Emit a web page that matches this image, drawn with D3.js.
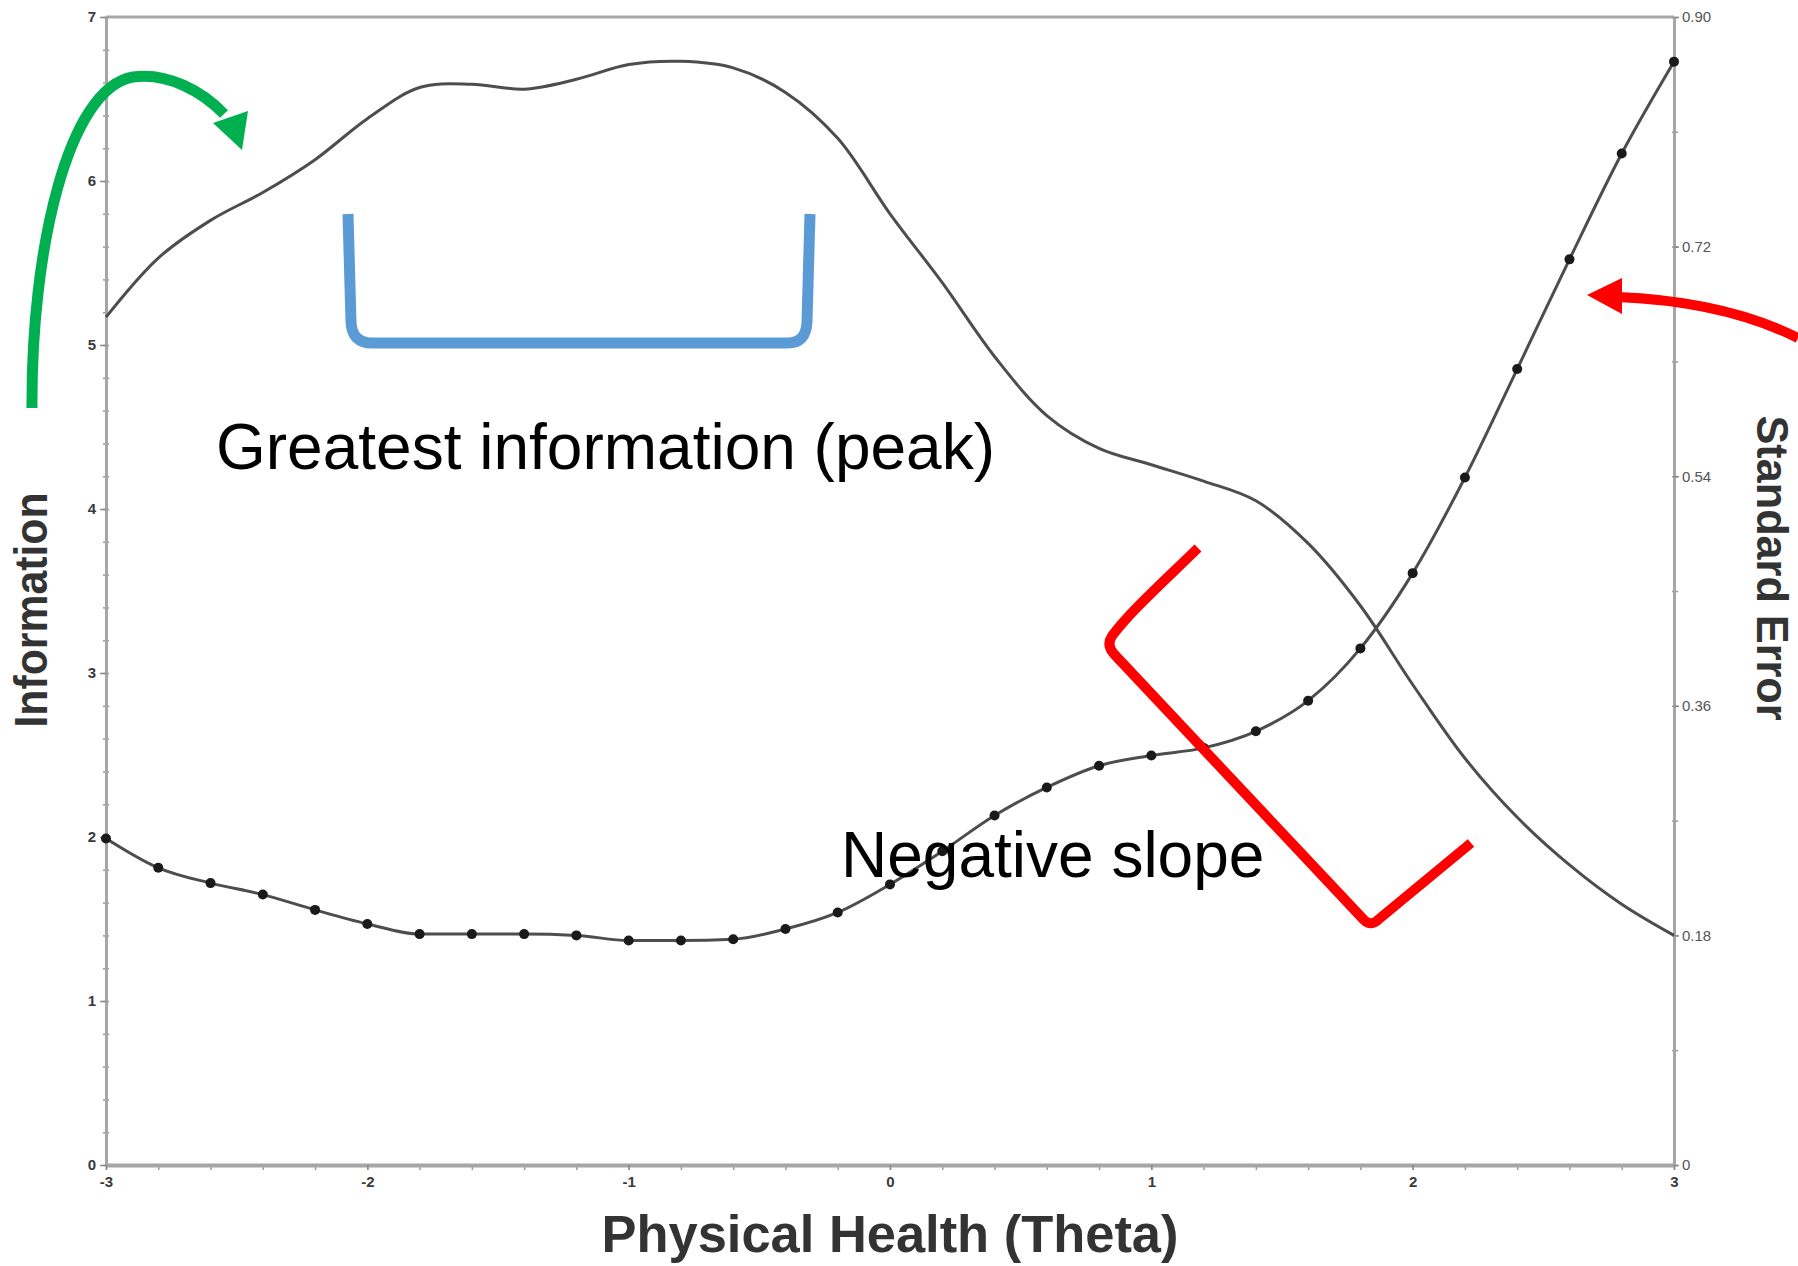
<!DOCTYPE html>
<html>
  <head>
    <title>Information / Standard Error</title>
  <script src="https://d3js.org/d3.v7.min.js"></script>
  <style>
    body { margin: 0; background: #fff; }
    text { font-family: "Liberation Sans", Arial, sans-serif; }
  </style>
 </head>
<body>
<script type="text/javascript">

// theta points (SE markers are drawn at each of them)
var theta = [-3, -2.8, -2.6, -2.4, -2.2, -2, -1.8, -1.6, -1.4, -1.2, -1,
             -0.8, -0.6, -0.4, -0.2, 0, 0.2, 0.4, 0.6, 0.8, 1,
             1.2, 1.4, 1.6, 1.8, 2, 2.2, 2.4, 2.6, 2.8, 3];

// test information (left axis)
var information = [5.17, 5.53, 5.76, 5.93, 6.13, 6.38, 6.57, 6.59, 6.56, 6.62, 6.71,
                   6.73, 6.69, 6.54, 6.26, 5.80, 5.38, 4.93, 4.57, 4.37, 4.27,
                   4.17, 4.05, 3.79, 3.41, 2.93, 2.48, 2.12, 1.83, 1.59, 1.40];

// standard error (right axis)
var stdError = [0.256, 0.233, 0.221, 0.212, 0.200, 0.189, 0.181, 0.181, 0.181, 0.180, 0.176,
                0.176, 0.177, 0.185, 0.198, 0.220, 0.246, 0.274, 0.296, 0.313, 0.321,
                0.327, 0.340, 0.364, 0.405, 0.464, 0.539, 0.624, 0.710, 0.793, 0.865];

var thetaTicks = [-3, -2, -1, 0, 1, 2, 3];
var infoTicks = [0, 1, 2, 3, 4, 5, 6, 7];
var seTicks = [0, 0.18, 0.36, 0.54, 0.72, 0.90];

var width = 1798;
var height = 1266;
// plot box (window.top is reserved, so no plain "top" here)
var plotL = 106, plotR = 1674, plotT = 17, plotB = 1165;

var svg = d3.select("body")
      .append("svg")
      .attr("width", width)
      .attr("height", height);

var x = d3.scaleLinear().domain([-3, 3]).range([plotL, plotR]);
var yInfo = d3.scaleLinear().domain([0, 7]).range([plotB, plotT]);
var ySE = d3.scaleLinear().domain([0, 0.9]).range([plotB, plotT]);

function styleAxis(g, domainWidth, labelColor, labelWeight){
  g.select(".domain").attr("stroke", "#a6a6a6").attr("stroke-width", domainWidth);
  g.selectAll(".tick line").attr("stroke", "#8a8a8a").attr("stroke-width", 1.5);
  g.selectAll(".tick text").attr("fill", labelColor)
   .style("font-size", "15px").style("font-weight", labelWeight);
}

// top frame line
svg.append("line")
   .attr("x1", plotL).attr("x2", plotR)
   .attr("y1", plotT).attr("y2", plotT)
   .attr("stroke", "#a8a8a8").attr("stroke-width", 3);

// minor ticks first, then the main axes on top
svg.append("g").attr("transform", "translate(" + plotL + ",0)")
   .call(d3.axisLeft(yInfo).tickValues(d3.range(0, 7.01, 0.2)).tickSize(3).tickFormat(""))
   .call(function(g){ g.select(".domain").remove(); g.selectAll("line").attr("x1", 3).attr("stroke", "#999").attr("stroke-width", 1.5) });

svg.append("g").attr("transform", "translate(" + plotR + ",0)")
   .call(d3.axisRight(ySE).tickValues(d3.range(0, 0.91, 0.09)).tickSize(4).tickFormat(""))
   .call(function(g){ g.select(".domain").remove(); g.selectAll("line").attr("x1", -2).attr("stroke", "#999").attr("stroke-width", 1.5) });

svg.append("g").attr("transform", "translate(0," + plotB + ")")
   .call(d3.axisBottom(x).tickValues(d3.range(-3, 3.01, 0.2)).tickSize(5).tickFormat(""))
   .call(function(g){ g.select(".domain").remove(); g.selectAll("line").attr("stroke", "#999").attr("stroke-width", 1.5) });

var gLeft = svg.append("g").attr("transform", "translate(" + plotL + ",0)")
   .call(d3.axisLeft(yInfo).tickValues(infoTicks).tickSize(6).tickPadding(4).tickSizeOuter(0)
           .tickFormat(function(d){ return String(d) }));
styleAxis(gLeft, 3, "#3a3a3a", "bold");

var gRight = svg.append("g").attr("transform", "translate(" + plotR + ",0)")
   .call(d3.axisRight(ySE).tickValues(seTicks).tickSize(5).tickPadding(3).tickSizeOuter(0)
           .tickFormat(function(d){ return d === 0 ? "0" : d.toFixed(2) }));
styleAxis(gRight, 3, "#555", "normal");

var gBottom = svg.append("g").attr("transform", "translate(0," + plotB + ")")
   .call(d3.axisBottom(x).tickValues(thetaTicks).tickSize(5).tickPadding(6).tickSizeOuter(0)
           .tickFormat(function(d){ return String(d) }));
styleAxis(gBottom, 4, "#3a3a3a", "bold");

// axis titles
svg.append("text")
   .attr("transform", "translate(47,610) rotate(-90)")
   .attr("text-anchor", "middle")
   .attr("textLength", 235).attr("lengthAdjust", "spacingAndGlyphs")
   .style("font-size", "46px").style("font-weight", "bold")
   .attr("fill", "#333")
   .text("Information");

svg.append("text")
   .attr("transform", "translate(1757,568) rotate(90)")
   .attr("text-anchor", "middle")
   .attr("textLength", 305).attr("lengthAdjust", "spacingAndGlyphs")
   .style("font-size", "44px").style("font-weight", "bold")
   .attr("fill", "#333")
   .text("Standard Error");

svg.append("text")
   .attr("x", (plotL + plotR) / 2).attr("y", 1252)
   .attr("text-anchor", "middle")
   .attr("textLength", 577).attr("lengthAdjust", "spacingAndGlyphs")
   .style("font-size", "51px").style("font-weight", "bold")
   .attr("fill", "#333")
   .text("Physical Health (Theta)");

// curves
var infoLine = d3.line()
   .x(function(d, i){ return x(theta[i]) })
   .y(function(d){ return yInfo(d) })
   .curve(d3.curveCatmullRom);

var seLine = d3.line()
   .x(function(d, i){ return x(theta[i]) })
   .y(function(d){ return ySE(d) })
   .curve(d3.curveMonotoneX);

svg.append("path")
   .attr("d", infoLine(information))
   .attr("fill", "none").attr("stroke", "#4d4d4d").attr("stroke-width", 3);

svg.append("path")
   .attr("d", seLine(stdError))
   .attr("fill", "none").attr("stroke", "#4d4d4d").attr("stroke-width", 3);

svg.selectAll("circle.se")
   .data(stdError)
   .enter()
   .append("circle")
   .attr("class", "se")
   .attr("cx", function(d, i){ return x(theta[i]) })
   .attr("cy", function(d){ return ySE(d) })
   .attr("r", 5)
   .attr("fill", "#1a1a1a");

// annotations drawn over the chart
var ann = svg.append("g").attr("fill", "none").attr("stroke-linecap", "butt").attr("stroke-linejoin", "round");

// green arrow
ann.append("path")
   .attr("d", "M32,408 C31,250 68,88 133,77 C168,72 203,92 224,114")
   .attr("stroke", "#00b050").attr("stroke-width", 11);
ann.append("path")
   .attr("d", "M213,123 L248,111 L242,150 Z")
   .attr("fill", "#00b050").attr("stroke", "none");

// blue bracket under the peak
ann.append("path")
   .attr("d", "M348,214 L351,322 Q352,343 372,343 L788,343 Q806,343 807,322 L810,214")
   .attr("stroke", "#5b9bd5").attr("stroke-width", 11);

// red arrow pointing at the SE curve
ann.append("path")
   .attr("d", "M1798,338 C1750,314 1690,300 1618,297")
   .attr("stroke", "#ff0000").attr("stroke-width", 10);
ann.append("path")
   .attr("d", "M1622,278 L1587,295 L1622,314 Z")
   .attr("fill", "#ff0000").attr("stroke", "none");

// red bracket along the negative slope
ann.append("path")
   .attr("d", "M1198,548 C1160,585 1130,612 1112,636 Q1106,645 1114,654 L1364,920 Q1371,927 1379,919 L1471,843")
   .attr("stroke", "#ff0000").attr("stroke-width", 10);

svg.append("text")
   .attr("x", 216).attr("y", 469)
   .style("font-size", "64px").attr("fill", "#000")
   .text("Greatest information (peak)");

svg.append("text")
   .attr("x", 841).attr("y", 877)
   .style("font-size", "64px").attr("fill", "#000")
   .text("Negative slope");

</script>
</body>
</html>
